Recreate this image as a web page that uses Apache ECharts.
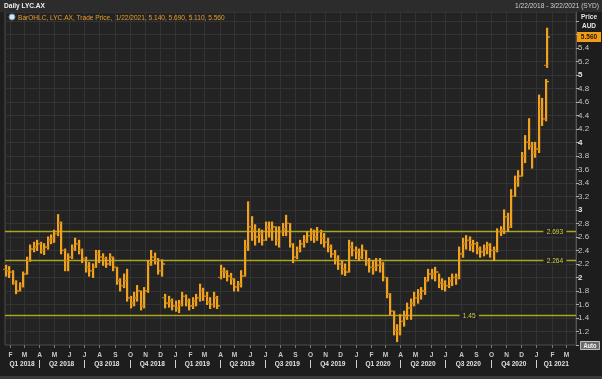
<!DOCTYPE html>
<html><head><meta charset="utf-8">
<script src="https://cdn.jsdelivr.net/npm/echarts@6/dist/echarts.min.js"></script>
<style>html,body{margin:0;padding:0;background:#1d1d1d;}#c{width:602px;height:379px;}</style>
</head><body><div id="c"></div>
<script>
// ---- data (weekly OHLC, last entry = daily bar 1/22/2021) ----
const barDates = [
'2018-01-24','2018-01-31','2018-02-07','2018-02-14','2018-02-21','2018-02-28','2018-03-07','2018-03-14','2018-03-21','2018-03-28',
'2018-04-04','2018-04-11','2018-04-18','2018-04-25','2018-05-02','2018-05-09','2018-05-16','2018-05-23','2018-05-30','2018-06-06',
'2018-06-13','2018-06-20','2018-06-27','2018-07-04','2018-07-11','2018-07-18','2018-07-25','2018-08-01','2018-08-08','2018-08-15',
'2018-08-22','2018-08-29','2018-09-05','2018-09-12','2018-09-19','2018-09-26','2018-10-03','2018-10-10','2018-10-17','2018-10-24',
'2018-10-31','2018-11-07','2018-11-14','2018-11-21','2018-11-28','2018-12-05','2018-12-12','2018-12-19','2018-12-26','2019-01-02',
'2019-01-09','2019-01-16','2019-01-23','2019-01-30','2019-02-06','2019-02-13','2019-02-20','2019-02-27','2019-03-06','2019-03-13',
'2019-03-20','2019-03-27','2019-04-03','2019-04-10','2019-04-17','2019-04-24','2019-05-01','2019-05-08','2019-05-15','2019-05-22',
'2019-05-29','2019-06-05','2019-06-12','2019-06-19','2019-06-26','2019-07-03','2019-07-10','2019-07-17','2019-07-24','2019-07-31',
'2019-08-07','2019-08-14','2019-08-21','2019-08-28','2019-09-04','2019-09-11','2019-09-18','2019-09-25','2019-10-02','2019-10-09',
'2019-10-16','2019-10-23','2019-10-30','2019-11-06','2019-11-13','2019-11-20','2019-11-27','2019-12-04','2019-12-11','2019-12-18',
'2019-12-25','2020-01-01','2020-01-08','2020-01-15','2020-01-22','2020-01-29','2020-02-05','2020-02-12','2020-02-19','2020-02-26',
'2020-03-04','2020-03-11','2020-03-18','2020-03-25','2020-04-01','2020-04-08','2020-04-15','2020-04-22','2020-04-29','2020-05-06',
'2020-05-13','2020-05-20','2020-05-27','2020-06-03','2020-06-10','2020-06-17','2020-06-24','2020-07-01','2020-07-08','2020-07-15',
'2020-07-22','2020-07-29','2020-08-05','2020-08-12','2020-08-19','2020-08-26','2020-09-02','2020-09-09','2020-09-16','2020-09-23',
'2020-09-30','2020-10-07','2020-10-14','2020-10-21','2020-10-28','2020-11-04','2020-11-11','2020-11-18','2020-11-25','2020-12-02',
'2020-12-09','2020-12-16','2020-12-23','2020-12-30','2021-01-06','2021-01-13','2021-01-20',
'2021-01-22'];
const opens = [
2.12,2.10,2.08,1.92,1.80,1.88,2.05,2.25,2.42,2.45,
2.50,2.40,2.45,2.55,2.58,2.65,2.80,2.40,2.25,2.30,
2.42,2.50,2.40,2.28,2.15,2.10,2.15,2.35,2.30,2.28,
2.20,2.30,2.15,1.95,1.88,1.95,1.70,1.62,1.70,1.80,
1.58,1.80,2.20,2.30,2.25,2.10,1.70,1.62,1.65,1.58,
1.55,1.60,1.72,1.65,1.58,1.65,1.70,1.80,1.72,1.64,
1.60,1.70,2.00,2.10,2.08,2.02,1.98,1.86,1.90,2.02,
2.45,2.75,2.70,2.60,2.65,2.55,2.75,2.70,2.75,2.55,
2.68,2.72,2.80,2.50,2.30,2.40,2.50,2.55,2.62,2.65,
2.60,2.68,2.58,2.52,2.45,2.35,2.28,2.20,2.12,2.08,
2.45,2.40,2.38,2.30,2.40,2.22,2.15,2.15,2.18,2.20,
2.00,1.75,1.50,1.22,1.20,1.35,1.42,1.55,1.62,1.70,
1.75,1.80,1.95,2.05,2.05,2.08,1.92,1.90,1.88,1.95,
2.00,2.00,2.35,2.50,2.55,2.48,2.50,2.42,2.38,2.42,
2.48,2.40,2.40,2.68,2.70,2.90,2.75,3.20,3.42,3.50,
3.80,4.00,3.95,3.85,3.90,4.50,4.35,
5.14];
const highs = [
2.18,2.16,2.10,1.95,1.92,2.08,2.30,2.48,2.52,2.55,
2.52,2.50,2.60,2.63,2.70,2.93,2.82,2.42,2.35,2.48,
2.58,2.55,2.42,2.30,2.22,2.20,2.40,2.40,2.35,2.30,
2.35,2.30,2.15,1.98,2.05,2.12,1.72,1.78,1.88,1.80,
1.85,2.25,2.40,2.36,2.28,2.26,1.75,1.72,1.68,1.65,
1.66,1.78,1.74,1.68,1.70,1.75,1.90,1.84,1.78,1.70,
1.78,1.72,2.18,2.14,2.10,2.06,1.98,1.94,2.10,2.55,
3.12,2.90,2.78,2.72,2.70,2.82,2.82,2.82,2.75,2.75,
2.80,2.92,2.80,2.50,2.45,2.55,2.62,2.68,2.72,2.70,
2.74,2.70,2.65,2.58,2.48,2.40,2.32,2.25,2.20,2.55,
2.52,2.45,2.42,2.48,2.40,2.28,2.25,2.28,2.28,2.22,
2.00,1.76,1.50,1.30,1.45,1.50,1.62,1.68,1.78,1.82,
1.85,2.00,2.12,2.12,2.15,2.05,1.98,1.95,2.00,2.05,
2.05,2.45,2.58,2.62,2.60,2.55,2.52,2.45,2.48,2.52,
2.50,2.45,2.72,2.75,3.00,2.95,3.30,3.50,3.58,3.85,
4.10,4.35,4.00,4.00,4.70,4.65,4.93,
5.69];
const lows = [
2.02,2.00,1.90,1.76,1.80,1.86,2.05,2.24,2.38,2.40,
2.36,2.34,2.42,2.50,2.52,2.62,2.35,2.10,2.10,2.28,
2.40,2.35,2.22,2.08,2.02,2.00,2.15,2.22,2.18,2.15,
2.18,2.10,1.90,1.80,1.85,1.65,1.55,1.58,1.65,1.52,
1.55,1.78,2.18,2.20,2.05,2.02,1.55,1.56,1.52,1.50,
1.48,1.58,1.58,1.52,1.54,1.58,1.65,1.66,1.60,1.54,
1.56,1.54,1.98,2.00,1.95,1.90,1.80,1.80,1.86,2.02,
2.40,2.55,2.48,2.52,2.48,2.55,2.60,2.55,2.48,2.45,
2.62,2.62,2.45,2.22,2.28,2.38,2.45,2.52,2.55,2.52,
2.55,2.50,2.45,2.38,2.30,2.20,2.12,2.05,2.03,2.08,
2.32,2.28,2.25,2.28,2.18,2.08,2.05,2.10,2.08,1.95,
1.70,1.45,1.15,1.05,1.15,1.28,1.38,1.38,1.58,1.62,
1.68,1.75,1.95,1.98,1.95,1.85,1.82,1.80,1.85,1.88,
1.90,1.98,2.30,2.42,2.40,2.38,2.35,2.30,2.32,2.35,
2.30,2.25,2.38,2.62,2.65,2.68,2.74,3.20,3.35,3.50,
3.70,3.90,3.62,3.78,3.85,4.25,4.32,
5.11];
const closes = [
2.10,2.08,1.92,1.80,1.88,2.05,2.25,2.42,2.45,2.50,
2.40,2.45,2.55,2.58,2.65,2.80,2.40,2.25,2.30,2.42,
2.50,2.40,2.28,2.15,2.10,2.15,2.35,2.30,2.28,2.20,
2.30,2.15,1.95,1.88,1.95,1.70,1.62,1.70,1.80,1.58,
1.80,2.20,2.30,2.25,2.10,2.20,1.62,1.65,1.58,1.55,
1.60,1.72,1.65,1.58,1.65,1.70,1.80,1.72,1.64,1.60,
1.70,1.58,2.10,2.08,2.02,1.98,1.86,1.90,2.02,2.45,
2.75,2.70,2.60,2.65,2.55,2.75,2.70,2.75,2.55,2.68,
2.72,2.80,2.50,2.30,2.40,2.50,2.55,2.62,2.65,2.60,
2.68,2.58,2.52,2.45,2.35,2.28,2.20,2.12,2.08,2.45,
2.40,2.38,2.30,2.40,2.22,2.15,2.15,2.18,2.20,2.00,
1.75,1.50,1.22,1.20,1.35,1.42,1.55,1.62,1.70,1.75,
1.80,1.95,2.05,2.05,2.08,1.92,1.90,1.88,1.95,2.00,
2.00,2.35,2.50,2.55,2.48,2.50,2.42,2.38,2.42,2.48,
2.40,2.40,2.68,2.70,2.90,2.75,3.20,3.42,3.50,3.80,
4.00,3.95,3.85,3.90,4.50,4.35,4.90,
5.56];
const monthTicks = ['2018-02-01','2018-03-01','2018-04-01','2018-05-01','2018-06-01','2018-07-01','2018-08-01','2018-09-01','2018-10-01','2018-11-01','2018-12-01',
'2019-01-01','2019-02-01','2019-03-01','2019-04-01','2019-05-01','2019-06-01','2019-07-01','2019-08-01','2019-09-01','2019-10-01','2019-11-01','2019-12-01',
'2020-01-01','2020-02-01','2020-03-01','2020-04-01','2020-05-01','2020-06-01','2020-07-01','2020-08-01','2020-09-01','2020-10-01','2020-11-01','2020-12-01',
'2021-01-01','2021-02-01','2021-03-01'];
const monthLetters = ['F','M','A','M','J','J','A','S','O','N','D',
'J','F','M','A','M','J','J','A','S','O','N','D',
'J','F','M','A','M','J','J','A','S','O','N','D',
'J','F','M'];
const quarterStarts = ['2018-01-01','2018-04-01','2018-07-01','2018-10-01','2019-01-01','2019-04-01','2019-07-01','2019-10-01','2020-01-01','2020-04-01','2020-07-01','2020-10-01','2021-01-01'];
const quarterEnds = ['2018-04-01','2018-07-01','2018-10-01','2019-01-01','2019-04-01','2019-07-01','2019-10-01','2020-01-01','2020-04-01','2020-07-01','2020-10-01','2021-01-01','2021-04-01'];
const quarterLabels = ['Q1 2018','Q2 2018','Q3 2018','Q4 2018','Q1 2019','Q2 2019','Q3 2019','Q4 2019','Q1 2020','Q2 2020','Q3 2020','Q4 2020','Q1 2021'];
const levelValues = [2.693, 2.264, 1.45];
const levelLabels = ['2.693', '2.264', '1.45'];
const lastPrice = [5.56];
const lastPriceLabel = '5.560';
const axisStart = '2018-01-22', axisEnd = '2021-03-22';
const titleText = 'Daily LYC.AX';
const legendText = 'BarOHLC, LYC.AX, Trade Price,  1/22/2021, 5.140, 5.690, 5.110, 5.560';
const rangeText = '1/22/2018 - 3/22/2021 (SYD)';

// ---- styles ----
const F = "'Liberation Sans',Arial,sans-serif";
const SX = 0.82; // horizontal squeeze to imitate the narrow UI font
const BAR = '#f0a11e';
const BAR_DARK = '#b8760f';
const LEVEL = '#a9a624';
const LEVELTXT = '#cfcc3a';
const GRIDC = '#333333';
const levelLabelFrac = [0.963, 0.963, 0.813];

const chart = echarts.init(document.getElementById('c'), null, {renderer: 'canvas'});

function renderBar(params, api) {
  const t = api.value(0);
  const o = api.coord([t, api.value(1)]);
  const h = api.coord([t, api.value(2)]);
  const l = api.coord([t, api.value(3)]);
  const c = api.coord([t, api.value(4)]);
  const x = Math.round(h[0]);
  const w = 2;
  return {type: 'group', children: [
    {type: 'rect', shape: {x: x - 1, y: h[1] - 0.5, width: 2.2, height: Math.max(1, l[1] - h[1] + 1)}, style: {fill: BAR}},
    {type: 'line', shape: {x1: x - 1 - w, y1: o[1], x2: x, y2: o[1]}, style: {stroke: BAR_DARK, lineWidth: 1.2}},
    {type: 'line', shape: {x1: x, y1: c[1], x2: x + 1 + w, y2: c[1]}, style: {stroke: BAR, lineWidth: 1.2}}
  ]};
}
function renderMonth(params, api) {
  const cs = params.coordSys;
  const x = Math.round(api.coord([api.value(0), 1])[0]) + 0.5;
  const yb = cs.y + cs.height;
  return {type: 'group', children: [
    {type: 'line', shape: {x1: x, y1: cs.y, x2: x, y2: yb}, style: {stroke: GRIDC, lineWidth: 1}},
    {type: 'line', shape: {x1: x, y1: yb, x2: x, y2: yb + 3}, style: {stroke: '#777', lineWidth: 1}},
    {type: 'text', x: x, y: yb + 10, scaleX: SX, style: {text: monthLetters[params.dataIndex], fill: '#c9c9c9', font: 'bold 8px ' + F, align: 'center', verticalAlign: 'middle'}}
  ]};
}
function renderQuarter(params, api) {
  const cs = params.coordSys;
  const xs = api.coord([api.value(0), 1])[0];
  const xe = api.coord([api.value(1), 1])[0];
  const x1 = Math.max(xs, cs.x), x2 = Math.min(xe, cs.x + cs.width);
  const yb = cs.y + cs.height;
  const kids = [{type: 'text', x: (x1 + x2) / 2, y: yb + 19, scaleX: SX, style: {text: quarterLabels[params.dataIndex], fill: '#e2e2e2', font: 'bold 8px ' + F, align: 'center', verticalAlign: 'middle'}}];
  if (xs > cs.x + 1) {
    const sx = Math.round(xs) + 0.5;
    kids.push({type: 'line', shape: {x1: sx, y1: yb + 15, x2: sx, y2: yb + 23}, style: {stroke: '#cfcfcf', lineWidth: 1}});
  }
  return {type: 'group', children: kids};
}
function renderLevel(params, api) {
  const cs = params.coordSys;
  const y = Math.round(api.coord([+echarts.time.parse(axisStart), api.value(0)])[1]) + 0.5;
  const i = params.dataIndex;
  return {type: 'group', children: [
    {type: 'line', shape: {x1: cs.x, y1: y, x2: cs.x + cs.width, y2: y}, style: {stroke: LEVEL, lineWidth: 1.6}},
    {type: 'text', x: cs.x + cs.width * levelLabelFrac[i], y: y, scaleX: SX, style: {text: levelLabels[i], fill: LEVELTXT, font: '8px ' + F, align: 'center', verticalAlign: 'middle', backgroundColor: '#232323', padding: [0, 4]}}
  ]};
}
function renderLast(params, api) {
  const cs = params.coordSys;
  const y = api.coord([+echarts.time.parse(axisStart), api.value(0)])[1];
  const x = cs.x + cs.width + 1;
  return {type: 'group', children: [
    {type: 'rect', shape: {x: x, y: Math.round(y) - 5, width: 24, height: 10}, style: {fill: '#f29d12'}},
    {type: 'text', x: x + 12, y: Math.round(y), scaleX: SX, style: {text: lastPriceLabel, fill: '#1a1a1a', font: 'bold 8px ' + F, align: 'center', verticalAlign: 'middle'}}
  ]};
}

const barData = barDates.map((d, i) => [d, opens[i], highs[i], lows[i], closes[i]]);
const quarterData = quarterStarts.map((d, i) => [d, quarterEnds[i]]);

chart.setOption({
  animation: false,
  backgroundColor: '#1d1d1d',
  grid: {left: 5, right: 26, top: 12, bottom: 34, show: true, backgroundColor: '#232323', borderColor: '#4d4d4d', borderWidth: 1},
  xAxis: {type: 'time', min: axisStart, max: axisEnd, axisLine: {show: false}, axisTick: {show: false}, axisLabel: {show: false}, splitLine: {show: false}},
  yAxis: {type: 'value', position: 'right', min: 1, max: 5.93, interval: 0.2,
    axisLine: {show: true, lineStyle: {color: '#555'}},
    axisTick: {show: true, length: 3, lineStyle: {color: '#aaa'}},
    axisLabel: {margin: 2, color: '#c6c6c6', fontFamily: F, fontSize: 8, showMaxLabel: false,
      formatter: function (v) {
        const r = Math.round(v * 10) / 10;
        if (r < 1.1 || r > 5.5) return '';
        if (Number.isInteger(r)) return '{b|' + r + '}';
        return String(r);
      },
      rich: {b: {fontWeight: 'bold', color: '#e4e4e4', fontFamily: F, fontSize: 8}}},
    splitLine: {show: true, lineStyle: {color: GRIDC, width: 1}}},
  series: [
    {type: 'custom', name: 'months', z: 1, silent: true, renderItem: renderMonth,
     dimensions: [{name: 'date', type: 'time'}], encode: {x: 0}, data: monthTicks.map(d => [d])},
    {type: 'custom', name: 'quarters', z: 1, silent: true, renderItem: renderQuarter,
     dimensions: [{name: 's', type: 'time'}, {name: 'e', type: 'time'}], encode: {x: [0, 1]}, data: quarterData},
    {type: 'custom', name: 'levels', z: 2, silent: true, renderItem: renderLevel,
     dimensions: [{name: 'lvl', type: 'float'}], encode: {y: 0}, data: levelValues.map(v => [v])},
    {type: 'custom', name: 'LYC.AX', z: 3, renderItem: renderBar,
     dimensions: [{name: 'date', type: 'time'}, 'open', 'high', 'low', 'close'], encode: {x: 0, y: [1, 2, 3, 4]}, data: barData},
    {type: 'custom', name: 'last', z: 4, silent: true, renderItem: renderLast,
     dimensions: [{name: 'p', type: 'float'}], encode: {y: 0}, data: lastPrice.map(v => [v])}
  ],
  graphic: [
    {type: 'rect', left: 0, top: 0, shape: {width: 602, height: 12}, style: {fill: '#2c2c2c'}, z: 10},
    {type: 'text', x: 4, y: 6, scaleX: SX, style: {text: titleText, fill: '#f0f0f0', font: 'bold 8px ' + F, verticalAlign: 'middle'}, z: 11},
    {type: 'text', x: 599, y: 6, scaleX: SX, style: {text: rangeText, fill: '#cfcfcf', font: '8px ' + F, align: 'right', verticalAlign: 'middle'}, z: 11},
    {type: 'circle', shape: {cx: 12, cy: 17, r: 3}, style: {fill: '#d8e4f0', stroke: '#7090b0', lineWidth: 1}, z: 11},
    {type: 'text', x: 18, y: 17.5, scaleX: SX, style: {text: legendText, fill: '#e99c2a', font: '8px ' + F, verticalAlign: 'middle'}, z: 11},
    {type: 'text', x: 589, y: 17, scaleX: SX, style: {text: 'Price', fill: '#e4e4e4', font: 'bold 8px ' + F, align: 'center', verticalAlign: 'middle'}, z: 11},
    {type: 'text', x: 589, y: 26, scaleX: SX, style: {text: 'AUD', fill: '#e4e4e4', font: 'bold 8px ' + F, align: 'center', verticalAlign: 'middle'}, z: 11},
    {type: 'rect', shape: {x: 580.5, y: 341.5, width: 19, height: 8}, style: {fill: '#6a6a6a', stroke: '#bdbdbd', lineWidth: 1}, z: 11},
    {type: 'text', x: 590, y: 346, scaleX: SX, style: {text: 'Auto', fill: '#f4f4f4', font: 'bold 7px ' + F, align: 'center', verticalAlign: 'middle'}, z: 12},
    {type: 'rect', shape: {x: 0, y: 376, width: 602, height: 3}, style: {fill: '#3a3a3a'}, z: 10}
  ]
});
</script></body></html>
